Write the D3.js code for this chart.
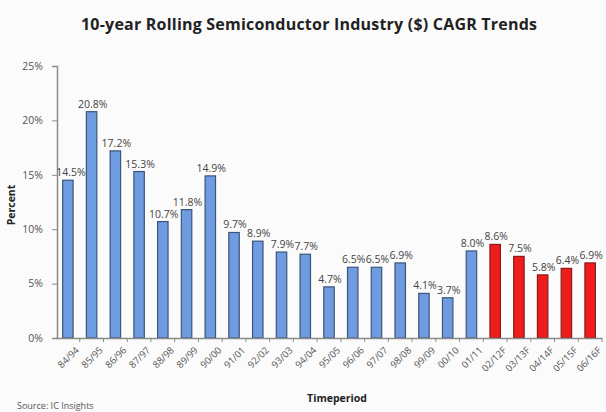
<!DOCTYPE html>
<html>
<head>
<meta charset="utf-8">
<script src="https://cdn.jsdelivr.net/npm/d3@7"></script>
<style>
  body { margin: 0; background: #fbfbfb; }
  text { font-family: "Open Sans", "Liberation Sans", sans-serif; }
</style>
</head>
<body>
<div id="chart"></div>
<script>
const periods = ["84/94","85/95","86/96","87/97","88/98","89/99","90/00","91/01","92/02","93/03",
                 "94/04","95/05","96/06","97/07","98/08","99/09","00/10","01/11",
                 "02/12F","03/13F","04/14F","05/15F","06/16F"];
const cagr = [14.5,20.8,17.2,15.3,10.7,11.8,14.9,9.7,8.9,7.9,
              7.7,4.7,6.5,6.5,6.9,4.1,3.7,8.0,
              8.6,7.5,5.8,6.4,6.9];
const forecast = ["02/12F","03/13F","04/14F","05/15F","06/16F"];
const yTicks = [0,5,10,15,20,25];

const width = 606, height = 412;
const margin = {top: 66, left: 57, right: 4, bottom: 74};

const svg = d3.select("#chart").append("svg")
    .attr("width", width)
    .attr("height", height);

const x = d3.scaleBand()
    .domain(periods)
    .range([margin.left - 1, width - margin.right])
    .paddingInner(0.56)
    .paddingOuter(0.28);

const y = d3.scaleLinear()
    .domain([0, 25])
    .range([height - margin.bottom, margin.top]);

// title
svg.append("text")
   .attr("x", 309).attr("y", 30)
   .attr("text-anchor", "middle")
   .attr("font-size", 16).attr("font-weight", "bold")
   .attr("fill", "#222")
   .attr("textLength", 456)
   .text("10-year Rolling Semiconductor Industry ($) CAGR Trends");

// y axis
const yAxis = svg.append("g")
   .attr("transform", `translate(${margin.left},0)`)
   .call(d3.axisLeft(y).tickValues(yTicks).tickFormat(d => d + "%").tickSize(5).tickPadding(9));
yAxis.select(".domain").attr("stroke", "#8a8a8a").attr("stroke-width", 1.5);
yAxis.selectAll(".tick line").attr("stroke", "#8a8a8a");
yAxis.selectAll(".tick text").attr("font-size", 10.5).attr("fill", "#555");

// bars
svg.append("g")
   .selectAll("rect")
   .data(periods)
   .enter()
   .append("rect")
   .attr("x", d => x(d))
   .attr("width", x.bandwidth())
   .attr("y", (d, i) => y(cagr[i]))
   .attr("height", (d, i) => y(0) - y(cagr[i]))
   .attr("fill", d => forecast.includes(d) ? "#ee1c1c" : "#6f9be0")
   .attr("stroke", d => forecast.includes(d) ? "#8a1a1a" : "#3b5578")
   .attr("stroke-width", 1.2);

// value labels
svg.append("g")
   .selectAll("text")
   .data(periods)
   .enter()
   .append("text")
   .attr("x", (d, i) => x(d) + x.bandwidth() / 2 + (i === 0 ? 3 : 1))
   .attr("y", (d, i) => y(cagr[i]) - 4)
   .attr("text-anchor", "middle")
   .attr("font-size", 10.5)
   .attr("fill", "#444")
   .text((d, i) => cagr[i].toFixed(1) + "%");

// x axis
const xAxis = svg.append("g")
   .attr("transform", `translate(0,${y(0)})`)
   .call(d3.axisBottom(x).tickSize(0).tickPadding(10));
xAxis.select(".domain").attr("stroke", "#8a8a8a").attr("stroke-width", 1.5);
xAxis.selectAll(".tick text")
   .attr("font-size", 9.5).attr("fill", "#555")
   .attr("text-anchor", "end")
   .attr("transform", "translate(0,1) rotate(-45)");

// boundary ticks between categories
const step = x.step();
svg.append("g")
   .selectAll("line")
   .data(periods)
   .enter()
   .append("line")
   .attr("x1", d => x(d) + x.bandwidth() / 2 + step / 2)
   .attr("x2", d => x(d) + x.bandwidth() / 2 + step / 2)
   .attr("y1", y(0)).attr("y2", y(0) + 4)
   .attr("stroke", "#8a8a8a");

// axis titles
svg.append("text")
   .attr("transform", `translate(15,${(y(0) + y(25)) / 2 + 3}) rotate(-90)`)
   .attr("text-anchor", "middle")
   .attr("font-size", 10.5).attr("font-weight", "bold").attr("fill", "#222")
   .text("Percent");

svg.append("text")
   .attr("x", 337).attr("y", 402)
   .attr("text-anchor", "middle")
   .attr("font-size", 10.5).attr("font-weight", "bold").attr("fill", "#222")
   .text("Timeperiod");

svg.append("text")
   .attr("x", 17).attr("y", 408.5)
   .attr("font-size", 9).attr("fill", "#555")
   .text("Source: IC Insights");
</script>
</body>
</html>
